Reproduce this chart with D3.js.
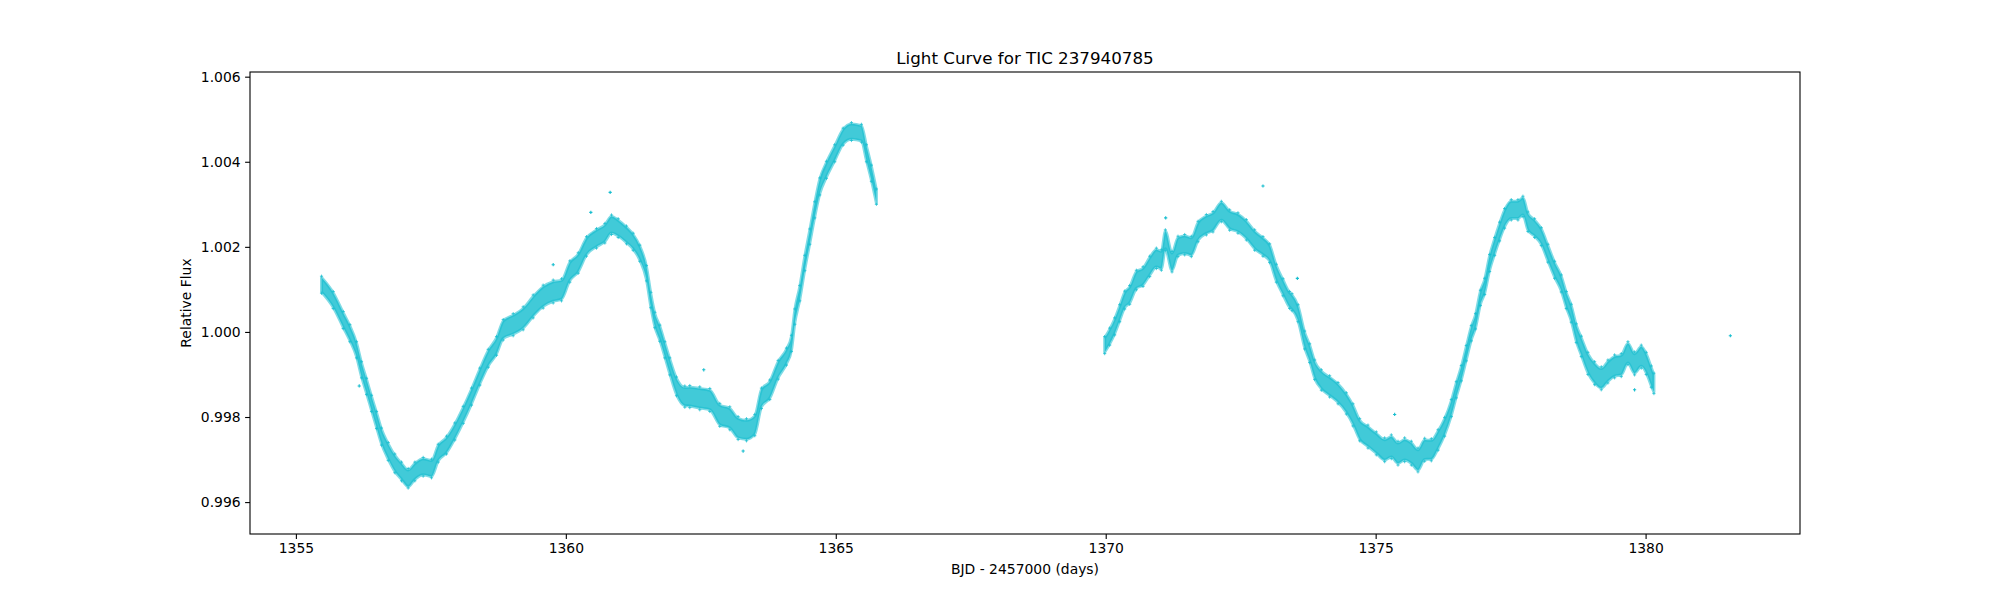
<!DOCTYPE html>
<html>
<head>
<meta charset="utf-8">
<script src="https://cdn.jsdelivr.net/npm/d3@7"></script>
<style>
  html, body { margin: 0; padding: 0; background: #fff; }
  svg { display: block; font-family: "DejaVu Sans", sans-serif; }
</style>
</head>
<body>
<svg id="chart" width="2000" height="600"></svg>
<script>
// ========= Data =========
// first orbit: band centre and half-spread of the scatter (flux units)
const seg1Time = [1355.475, 1355.691, 1355.876, 1356.000, 1356.123, 1356.216, 1356.309, 1356.401, 1356.494, 1356.586,
  1356.710, 1356.833, 1356.957, 1357.080, 1357.204, 1357.358, 1357.512, 1357.636, 1357.790, 1357.944,
  1358.099, 1358.253, 1358.407, 1358.562, 1358.716, 1358.840, 1359.025, 1359.210, 1359.395, 1359.580,
  1359.766, 1359.920, 1360.074, 1360.229, 1360.383, 1360.568, 1360.723, 1360.846, 1360.970, 1361.124,
  1361.247, 1361.371, 1361.494, 1361.574, 1361.649, 1361.741, 1361.834, 1361.926, 1362.050, 1362.204,
  1362.296, 1362.481, 1362.667, 1362.852, 1363.037, 1363.191, 1363.346, 1363.500, 1363.623, 1363.778,
  1363.932, 1364.086, 1364.179, 1364.241, 1364.333, 1364.426, 1364.519, 1364.611, 1364.704, 1364.827,
  1364.981, 1365.136, 1365.290, 1365.475, 1365.568, 1365.660, 1365.753];
const seg1Flux = [1.00111, 1.00075, 1.00028, 0.99997, 0.99958, 0.99911, 0.99872, 0.99832, 0.99793, 0.99754,
  0.99719, 0.99691, 0.99672, 0.99656, 0.99672, 0.99683, 0.99679, 0.99715, 0.99734, 0.99766,
  0.99805, 0.99848, 0.99895, 0.99938, 0.99967, 1.00005, 1.00017, 1.00032, 1.00060, 1.00083,
  1.00095, 1.00099, 1.00142, 1.00162, 1.00201, 1.00220, 1.00232, 1.00252, 1.00244, 1.00228,
  1.00212, 1.00185, 1.00138, 1.00075, 1.00028, 0.99997, 0.99958, 0.99919, 0.99872, 0.99848,
  0.99848, 0.99844, 0.99840, 0.99805, 0.99797, 0.99774, 0.99770, 0.99781, 0.99844, 0.99864,
  0.99911, 0.99942, 0.99973, 1.00036, 1.00091, 1.00162, 1.00224, 1.00287, 1.00342, 1.00381,
  1.00420, 1.00459, 1.00471, 1.00467, 1.00420, 1.00373, 1.00318];
const seg1Spread = [0.00020, 0.00020, 0.00020, 0.00020, 0.00019, 0.00019, 0.00019, 0.00019, 0.00020, 0.00020,
  0.00021, 0.00022, 0.00022, 0.00023, 0.00022, 0.00022, 0.00022, 0.00021, 0.00021, 0.00020,
  0.00020, 0.00020, 0.00020, 0.00021, 0.00022, 0.00024, 0.00026, 0.00027, 0.00027, 0.00027,
  0.00027, 0.00026, 0.00025, 0.00024, 0.00023, 0.00023, 0.00023, 0.00023, 0.00022, 0.00021,
  0.00020, 0.00019, 0.00018, 0.00018, 0.00018, 0.00019, 0.00019, 0.00020, 0.00022, 0.00025,
  0.00026, 0.00027, 0.00027, 0.00027, 0.00027, 0.00027, 0.00026, 0.00025, 0.00024, 0.00023,
  0.00022, 0.00020, 0.00019, 0.00018, 0.00018, 0.00018, 0.00018, 0.00019, 0.00020, 0.00020,
  0.00020, 0.00020, 0.00021, 0.00021, 0.00020, 0.00019, 0.00018];

// second orbit
const seg2Time = [1369.981, 1370.074, 1370.166, 1370.259, 1370.352, 1370.444, 1370.568, 1370.691, 1370.815, 1370.938,
  1371.031, 1371.105, 1371.228, 1371.339, 1371.463, 1371.586, 1371.710, 1371.864, 1371.987, 1372.142,
  1372.296, 1372.450, 1372.605, 1372.759, 1372.913, 1373.037, 1373.160, 1373.284, 1373.407, 1373.450,
  1373.562, 1373.685, 1373.778, 1373.871, 1373.994, 1374.148, 1374.303, 1374.457, 1374.580, 1374.704,
  1374.858, 1375.012, 1375.167, 1375.290, 1375.414, 1375.537, 1375.661, 1375.784, 1375.908, 1376.031,
  1376.155, 1376.278, 1376.402, 1376.494, 1376.587, 1376.679, 1376.772, 1376.850, 1376.940, 1377.019,
  1377.111, 1377.204, 1377.296, 1377.389, 1377.512, 1377.636, 1377.728, 1377.821, 1377.944, 1378.068,
  1378.191, 1378.315, 1378.438, 1378.531, 1378.623, 1378.716, 1378.809, 1378.932, 1379.056, 1379.179,
  1379.302, 1379.426, 1379.549, 1379.673, 1379.796, 1379.920, 1380.012, 1380.105, 1380.154];
const seg2Flux = [0.99969, 0.99989, 1.00013, 1.00044, 1.00075, 1.00087, 1.00122, 1.00130, 1.00154, 1.00173,
  1.00169, 1.00216, 1.00165, 1.00201, 1.00205, 1.00201, 1.00236, 1.00252, 1.00259, 1.00283,
  1.00263, 1.00256, 1.00240, 1.00216, 1.00201, 1.00185, 1.00138, 1.00105, 1.00075, 1.00070,
  1.00044, 0.99981, 0.99950, 0.99911, 0.99887, 0.99872, 0.99856, 0.99832, 0.99805, 0.99770,
  0.99754, 0.99738, 0.99723, 0.99730, 0.99715, 0.99723, 0.99715, 0.99699, 0.99723, 0.99723,
  0.99746, 0.99777, 0.99821, 0.99864, 0.99903, 0.99950, 0.99997, 1.00025, 1.00080, 1.00107,
  1.00162, 1.00201, 1.00236, 1.00267, 1.00287, 1.00287, 1.00295, 1.00259, 1.00244, 1.00224,
  1.00185, 1.00146, 1.00114, 1.00075, 1.00044, 0.99997, 0.99966, 0.99926, 0.99903, 0.99891,
  0.99907, 0.99919, 0.99922, 0.99950, 0.99926, 0.99942, 0.99926, 0.99895, 0.99879];
const seg2Spread = [0.00020, 0.00020, 0.00020, 0.00020, 0.00021, 0.00022, 0.00023, 0.00023, 0.00024, 0.00024,
  0.00024, 0.00024, 0.00024, 0.00024, 0.00024, 0.00024, 0.00024, 0.00024, 0.00024, 0.00024,
  0.00024, 0.00024, 0.00024, 0.00024, 0.00023, 0.00022, 0.00021, 0.00020, 0.00020, 0.00020,
  0.00020, 0.00021, 0.00022, 0.00023, 0.00024, 0.00025, 0.00025, 0.00025, 0.00026, 0.00026,
  0.00027, 0.00027, 0.00028, 0.00028, 0.00028, 0.00028, 0.00028, 0.00028, 0.00027, 0.00026,
  0.00024, 0.00022, 0.00020, 0.00019, 0.00018, 0.00018, 0.00018, 0.00018, 0.00018, 0.00019,
  0.00020, 0.00021, 0.00022, 0.00023, 0.00024, 0.00024, 0.00024, 0.00023, 0.00022, 0.00021,
  0.00021, 0.00020, 0.00020, 0.00020, 0.00021, 0.00022, 0.00024, 0.00026, 0.00027, 0.00027,
  0.00027, 0.00027, 0.00027, 0.00027, 0.00027, 0.00027, 0.00026, 0.00025, 0.00024];

// isolated points away from the main band
const strayTime = [1356.173, 1359.766, 1360.463, 1360.821, 1362.555, 1363.284, 1371.111, 1372.913, 1373.550, 1375.352, 1379.796, 1381.570];
const strayFlux = [0.99873, 1.00158, 1.00281, 1.00328, 0.99911, 0.99720, 1.00268, 1.00343, 1.00126, 0.99806, 0.99864, 0.99991];

const xTicks = [1355, 1360, 1365, 1370, 1375, 1380];
const yTicks = [0.996, 0.998, 1.000, 1.002, 1.004, 1.006];

// ========= Layout =========
const W = 2000, H = 600;
const margin = { left: 250, right: 200, top: 72, bottom: 66 };
const innerW = W - margin.left - margin.right;
const innerH = H - margin.top - margin.bottom;
const color = "#17becf";
const plusPath = "M-1.6,0H1.6M0,-1.6V1.6";

const svg = d3.select("#chart");

const x = d3.scaleLinear().domain([1354.15, 1382.86]).range([0, innerW]);
const y = d3.scaleLinear().domain([0.99525, 1.00611]).range([innerH, 0]);

const g = svg.append("g").attr("transform", `translate(${margin.left},${margin.top})`);

// ========= Scatter band =========
function bandRows(t, f, s) {
  return t.map((d, i) => ({ t: d, f: f[i], s: s[i] }));
}

const area = d3.area()
  .x(d => x(d.t))
  .y0(d => y(d.f - d.s * 0.85))
  .y1(d => y(d.f + d.s * 0.85))
  .curve(d3.curveMonotoneX);

const bands = [bandRows(seg1Time, seg1Flux, seg1Spread), bandRows(seg2Time, seg2Flux, seg2Spread)];

bands.forEach(rows => {
  g.append("path")
    .datum(rows)
    .attr("d", area)
    .attr("fill", color)
    .attr("fill-opacity", 0.82)
    .attr("stroke", color)
    .attr("stroke-opacity", 0.55)
    .attr("stroke-width", 3)
    .attr("stroke-linejoin", "round");

  // '+' markers on the ragged edges of the band
  g.selectAll(null)
    .data(rows.flatMap(d => [
      { t: d.t, f: d.f + d.s },
      { t: d.t, f: d.f - d.s }
    ]))
    .join("path")
    .attr("d", plusPath)
    .attr("transform", d => `translate(${x(d.t)},${y(d.f)})`)
    .attr("stroke", color)
    .attr("stroke-opacity", 0.75)
    .attr("stroke-width", 1)
    .attr("fill", "none");
});

// stray '+' markers
g.selectAll("path.stray")
  .data(strayTime.map((t, i) => ({ t, f: strayFlux[i] })))
  .join("path")
  .attr("class", "stray")
  .attr("d", plusPath)
  .attr("transform", d => `translate(${x(d.t)},${y(d.f)})`)
  .attr("stroke", color)
  .attr("stroke-width", 1.1)
  .attr("fill", "none");

// ========= Axes =========
const xAxis = g.append("g")
  .attr("transform", `translate(0,${innerH})`)
  .call(d3.axisBottom(x).tickValues(xTicks).tickFormat(d3.format("d")).tickSize(4.9).tickPadding(4.5));

const yAxis = g.append("g")
  .call(d3.axisLeft(y).tickValues(yTicks).tickFormat(d3.format(".3f")).tickSize(4.9).tickPadding(4.5));

[xAxis, yAxis].forEach(ax => {
  ax.select(".domain").remove();
  ax.selectAll(".tick line").attr("stroke", "#000").attr("stroke-width", 1.1);
  ax.selectAll(".tick text")
    .attr("fill", "#000")
    .attr("font-size", 13.9)
    .attr("font-family", "DejaVu Sans, sans-serif");
});

// frame
g.append("rect")
  .attr("x", 0).attr("y", 0)
  .attr("width", innerW).attr("height", innerH)
  .attr("fill", "none")
  .attr("stroke", "#000")
  .attr("stroke-width", 1.1);

// ========= Labels =========
svg.append("text")
  .attr("x", margin.left + innerW / 2)
  .attr("y", 64)
  .attr("text-anchor", "middle")
  .attr("font-size", 16.7)
  .text("Light Curve for TIC 237940785");

svg.append("text")
  .attr("x", margin.left + innerW / 2)
  .attr("y", 574)
  .attr("text-anchor", "middle")
  .attr("font-size", 13.9)
  .text("BJD - 2457000 (days)");

svg.append("text")
  .attr("transform", `translate(191,${margin.top + innerH / 2}) rotate(-90)`)
  .attr("text-anchor", "middle")
  .attr("font-size", 13.9)
  .text("Relative Flux");
</script>
</body>
</html>
